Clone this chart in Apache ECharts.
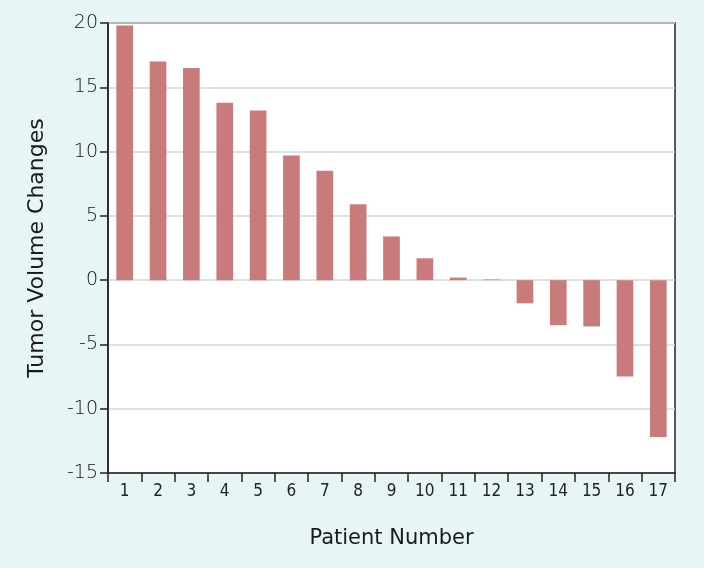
<!DOCTYPE html>
<html><head><meta charset="utf-8">
<script src="https://cdn.jsdelivr.net/npm/echarts@6/dist/echarts.min.js"></script>
<style>html,body{margin:0;padding:0;background:#e8f5f7;}#c{width:704px;height:568px;}</style>
</head><body><div id="c"></div>
<script>
const categories = ['1','2','3','4','5','6','7','8','9','10','11','12','13','14','15','16','17'];
const tumorChange = [19.8, 17.0, 16.5, 13.8, 13.2, 9.7, 8.5, 5.9, 3.4, 1.7, 0.2, 0.05, -1.8, -3.5, -3.6, -7.5, -12.2];
const yTicks = [-15, -10, -5, 0, 5, 10, 15, 20];

const chart = echarts.init(document.getElementById('c'), null, {renderer:'canvas'});
chart.setOption({
  backgroundColor: '#e8f5f7',
  animation: false,
  grid: {left: 108, right: 29, top: 23, bottom: 95, show: true, backgroundColor: '#ffffff', borderColor: '#222', borderWidth: 1.5},
  xAxis: {
    type: 'category', data: categories,
    name: 'Patient Number', nameLocation: 'middle', nameGap: 55,
    nameTextStyle: {fontFamily: 'DejaVu Sans', fontSize: 21, color: '#1a1a1a'},
    axisLine: {onZero: false, lineStyle: {color: '#222', width: 1.5}},
    axisTick: {show: true, inside: false, length: 9, alignWithLabel: false, lineStyle: {color: '#222', width: 1.5}},
    axisLabel: {fontFamily: 'DejaVu Sans Condensed', fontSize: 17, color: '#222', margin: 10},
    splitLine: {show: false}
  },
  yAxis: {
    type: 'value', min: yTicks[0], max: yTicks[yTicks.length-1], interval: 5,
    name: 'Tumor Volume Changes', nameLocation: 'middle', nameGap: 60,
    nameTextStyle: {fontFamily: 'DejaVu Sans', fontSize: 22, color: '#1a1a1a'},
    axisLine: {show: true, lineStyle: {color: '#222', width: 1.5}},
    axisTick: {show: true, length: 8, lineStyle: {color: '#222', width: 1.5}},
    axisLabel: {fontFamily: 'DejaVu Sans', fontSize: 19, fontWeight: 'lighter', color: '#111', margin: 10},
    splitLine: {show: true, lineStyle: {color: '#d6d6d6', width: 1.5}}
  },
  series: [{
    type: 'bar', data: tumorChange, barWidth: '50%',
    itemStyle: {color: '#c97b7b'}
  }]
});
</script></body></html>
